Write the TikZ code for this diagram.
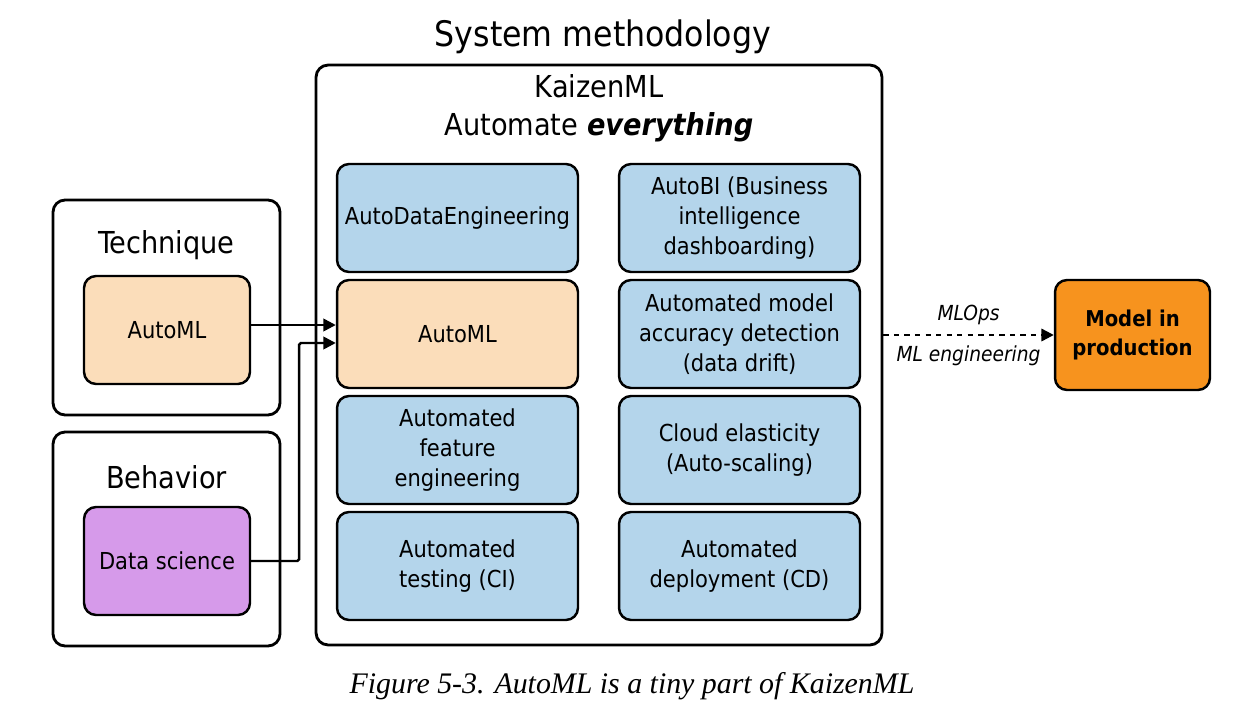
\documentclass[tikz,border=0pt]{standalone}
\usepackage{fontspec}
\setmainfont{Liberation Serif}
\newfontfamily\diagfont{DejaVu Sans Condensed}
\usetikzlibrary{positioning,arrows.meta}
\definecolor{skyblue}{HTML}{B4D5EB}
\definecolor{peach}{HTML}{FBDDBA}
\definecolor{lilac}{HTML}{D69AEA}
\definecolor{prodorange}{HTML}{F7931E}
\begin{document}
\begin{tikzpicture}[x=0.02cm,y=-0.02cm,
    panel/.style={draw,line width=1.6pt,rounded corners=0.24cm,inner sep=0pt},
    cell/.style={draw,line width=1.4pt,rounded corners=0.24cm,fill=skyblue,
      minimum width=4.82cm,minimum height=2.16cm,align=center,
      font=\diagfont\fontsize{13.3}{17}\selectfont},
    small/.style={cell,minimum width=3.32cm},
    arrow/.style={line width=1.4pt,-{Triangle[length=7pt,width=7pt]}},
    heading/.style={font=\diagfont\fontsize{17.2}{21.5}\selectfont}]
    \useasboundingbox (0,0) rectangle (1244,716);
    \node[font=\diagfont\fontsize{20}{24}\selectfont] (title) at (603,37) {System methodology};
    % KaizenML panel
    \node[panel,minimum width=11.32cm,minimum height=11.6cm] (kaizen) at (599,355) {};
    \node[heading,align=center] (kaizentitle) at (599,108) {KaizenML\\Automate \textbf{\textit{everything}}};
    \node[cell] (autode) at (457.5,218) {AutoDataEngineering};
    \node[cell,fill=peach] (automl) at (457.5,334) {AutoML};
    \node[cell] (autofe) at (457.5,450) {Automated\\feature\\engineering};
    \node[cell] (autotest) at (457.5,566) {Automated\\testing (CI)};
    \node[cell] (autobi) at (739.5,218) {AutoBI (Business\\intelligence\\dashboarding)};
    \node[cell] (autoacc) at (739.5,334) {Automated model\\accuracy detection\\(data drift)};
    \node[cell] (cloud) at (739.5,450) {Cloud elasticity\\(Auto-scaling)};
    \node[cell] (autodeploy) at (739.5,566) {Automated\\deployment (CD)};
    % Technique and Behavior
    \node[panel,minimum width=4.54cm,minimum height=4.3cm] (technique) at (166.5,307.5) {};
    \node[heading] at (166.5,245) {Technique};
    \node[small,fill=peach] (techml) at (167,330) {AutoML};
    \node[panel,minimum width=4.54cm,minimum height=4.28cm] (behavior) at (166.5,539) {};
    \node[heading] at (166.5,477) {Behavior};
    \node[small,fill=lilac] (datasci) at (167,561) {Data science};
    \coordinate (mlin1) at ([yshift=0.18cm]automl.west);
    \coordinate (mlin2) at ([yshift=-0.18cm]automl.west);
    \draw[arrow] (techml.east |- mlin1) -- (mlin1);
    \draw[arrow,rounded corners=1pt] (datasci.east) -- ++(48,0) |- (mlin2);
    % production
    \node[cell,fill=prodorange,minimum width=3.1cm,minimum height=2.2cm,
      font=\diagfont\bfseries\fontsize{12.4}{16}\selectfont] (prod) at (1132.5,335) {Model in\\production};
    \draw[arrow,dashed,line width=1.3pt] (kaizen.east |- prod.west) -- node[above=2pt,font=\diagfont\itshape\fontsize{11.8}{14}\selectfont]{MLOps}
      node[below=2pt,font=\diagfont\itshape\fontsize{11.8}{14}\selectfont]{ML engineering} (prod.west);
    \node[font=\itshape\fontsize{17}{20}\selectfont] (caption) at (632,686) {Figure 5-3. AutoML is a tiny part of KaizenML};
\end{tikzpicture}
\end{document}
